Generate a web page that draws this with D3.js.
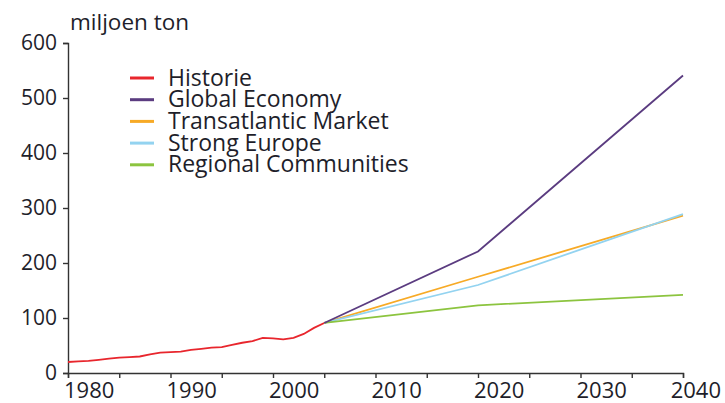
<!DOCTYPE html>
<html>
<head>
<meta charset="utf-8">
<script src="https://cdn.jsdelivr.net/npm/d3@7"></script>
<style>
  body { margin: 0; background: #fff; }
  text { font-family: "Open Sans", sans-serif; fill: #1e1e2a; }
</style>
</head>
<body>
<div id="chart"></div>
<script>
/* DATA */
const histYears = [1980, 1981, 1982, 1983, 1984, 1985, 1986, 1987, 1988, 1989, 1990, 1991, 1992,
  1993, 1994, 1995, 1996, 1997, 1998, 1999, 2000, 2001, 2002, 2003, 2004, 2005];
const histValues = [20, 21, 22, 24, 26, 28, 29, 30, 34, 37, 38, 39, 42,
  44, 46, 47, 51, 55, 58, 64, 63, 61, 64, 71, 82, 91];

const scenarioYears = [2005, 2020, 2040];
const globalEconomy = [91, 221, 541];
const transatlanticMarket = [91, 175, 286];
const strongEurope = [91, 160, 289];
const regionalCommunities = [91, 123, 142];

const seriesNames = ["Historie", "Global Economy", "Transatlantic Market", "Strong Europe", "Regional Communities"];
const seriesColors = ["#e8262d", "#5b3c80", "#f7aa26", "#93d3f0", "#8cc43f"];

const yTicks = [0, 100, 200, 300, 400, 500, 600];
const xLabelYears = [1980, 1990, 2000, 2010, 2020, 2030, 2040];

/* CONSTANTS */
const width = 725;
const height = 403;
const margin = { top: 43, right: 42, bottom: 30, left: 68 };

// build series table
const series = [
  { name: seriesNames[0], color: seriesColors[0], values: histYears.map((y, i) => ({ year: y, value: histValues[i] })) },
  { name: seriesNames[2], color: seriesColors[2], values: scenarioYears.map((y, i) => ({ year: y, value: transatlanticMarket[i] })) },
  { name: seriesNames[3], color: seriesColors[3], values: scenarioYears.map((y, i) => ({ year: y, value: strongEurope[i] })) },
  { name: seriesNames[4], color: seriesColors[4], values: scenarioYears.map((y, i) => ({ year: y, value: regionalCommunities[i] })) },
  { name: seriesNames[1], color: seriesColors[1], values: scenarioYears.map((y, i) => ({ year: y, value: globalEconomy[i] })) }
];

/* SCALES */
const xScale = d3.scaleLinear()
  .domain([1980, 2040])
  .range([margin.left, width - margin.right]);

const yScale = d3.scaleLinear()
  .domain([0, 600])
  .range([height - margin.bottom, margin.top]);

/* SVG */
const svg = d3.select("#chart")
  .append("svg")
  .attr("width", width)
  .attr("height", height);

// y axis
const yAxisGroup = svg.append("g")
  .attr("transform", `translate(${margin.left}, 0)`)
  .call(d3.axisLeft(yScale).tickValues(yTicks).tickSize(5).tickPadding(6));

// x axis
const xAxisGroup = svg.append("g")
  .attr("transform", `translate(0, ${height - margin.bottom})`)
  .call(d3.axisBottom(xScale).tickValues(d3.range(1980, 2041, 5)).tickSize(5).tickFormat(""));

svg.selectAll(".domain, .tick line")
  .attr("stroke", "#333")
  .attr("stroke-width", 1.4);

yAxisGroup.selectAll("text")
  .style("font-size", "21px")
  .attr("dy", "0.3em");

// x labels placed to the right of their tick
svg.append("g")
  .selectAll("text")
  .data(xLabelYears)
  .join("text")
    .attr("x", d => d === 2040 ? width - 4 : xScale(d) - 4)
    .attr("y", height - 5)
    .attr("text-anchor", d => d === 2040 ? "end" : "start")
    .style("font-size", "22px")
    .text(d => d);

// y title
svg.append("text")
  .attr("x", 70)
  .attr("y", 30)
  .style("font-size", "22.5px")
  .text("miljoen ton");

/* LINES */
const line = d3.line()
  .x(d => xScale(d.year))
  .y(d => yScale(d.value));

svg.selectAll(".series")
  .data(series)
  .join("path")
    .attr("class", "series")
    .attr("fill", "none")
    .attr("stroke", d => d.color)
    .attr("stroke-width", 1.8)
    .attr("d", d => line(d.values));

/* LEGEND */
const legend = svg.append("g")
  .attr("transform", "translate(130, 78)");

const legendItems = legend.selectAll("g")
  .data(seriesNames)
  .join("g")
    .attr("transform", (d, i) => `translate(0, ${i * 21.7})`);

legendItems.append("line")
  .attr("x1", 0)
  .attr("x2", 24)
  .attr("stroke", (d, i) => seriesColors[i])
  .attr("stroke-width", 3);

legendItems.append("text")
  .attr("x", 38)
  .attr("dy", "0.33em")
  .style("font-size", "23px")
  .text(d => d);
</script>
</body>
</html>
